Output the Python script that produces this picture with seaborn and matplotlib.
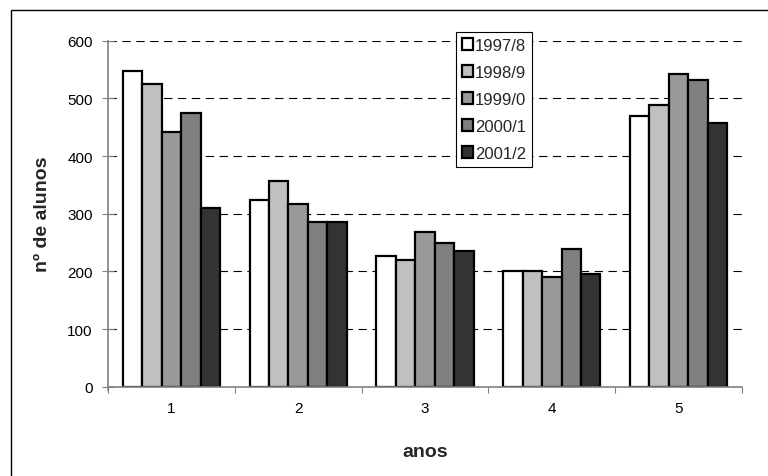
import matplotlib
matplotlib.use("Agg")
import matplotlib.pyplot as plt
import matplotlib.patches as mpatches
from matplotlib.ticker import FixedLocator
import seaborn as sns
import pandas as pd

categories = ["1", "2", "3", "4", "5"]
series_names = ["1997/8", "1998/9", "1999/0", "2000/1", "2001/2"]
v_1997 = [548, 323, 226, 201, 469]
v_1998 = [525, 356, 220, 201, 488]
v_1999 = [441, 316, 269, 191, 543]
v_2000 = [475, 285, 250, 238, 532]
v_2001 = [310, 286, 235, 195, 457]
yticks = [0, 100, 200, 300, 400, 500, 600]

values = [v_1997, v_1998, v_1999, v_2000, v_2001]
rows = []
for s, vals in zip(series_names, values):
    for c, v in zip(categories, vals):
        rows.append({"anos": c, "serie": s, "alunos": v})
df = pd.DataFrame(rows)

sns.set_theme(style="white")
plt.rcParams["font.family"] = ["Liberation Sans", "DejaVu Sans"]

colors = ["#ffffff", "#c0c0c0", "#999999", "#808080", "#333333"]

fig = plt.figure(figsize=(7.68, 4.77), dpi=100)
ax = fig.add_axes([108 / 768, 1 - 387.7 / 477, (742 - 108) / 768, (387.7 - 41.7) / 477])

sns.barplot(data=df, x="anos", y="alunos", hue="serie", order=categories,
            hue_order=series_names, palette=colors, width=0.766, gap=0,
            edgecolor="black", linewidth=1.6, saturation=1, ax=ax, legend=True)

ax.set_ylim(0, 600)
ax.set_xlim(-0.5, 4.5)
ax.set_yticks(yticks)
ax.set_yticklabels([str(t) for t in yticks], fontsize=11, color="black")
ax.set_xticks(range(len(categories)))
ax.set_xticklabels(categories, fontsize=11, color="black")
ax.xaxis.set_minor_locator(FixedLocator([i - 0.5 for i in range(len(categories) + 1)]))
ax.tick_params(axis="x", which="major", length=0, pad=10)
ax.tick_params(axis="x", which="minor", length=4, width=0.8, color="#808080", direction="out", bottom=True)
ax.tick_params(axis="y", which="major", length=8, width=0.8, color="#808080", direction="inout", left=True, pad=7)

for y in yticks[1:]:
    ax.axhline(y, color="black", lw=0.8, linestyle=(0, (7.5, 5)), zorder=0)
ax.set_axisbelow(True)

for side in ["top", "right"]:
    ax.spines[side].set_visible(False)
for side in ["left", "bottom"]:
    ax.spines[side].set_color("#808080")
    ax.spines[side].set_linewidth(1.2)
ax.spines["left"].set_bounds(-5, 600)

ax.set_xlabel("anos", fontsize=14, fontweight="bold")
ax.set_ylabel("nº de alunos", fontsize=14, fontweight="bold")
ax.xaxis.set_label_coords(0.5, -(444 - 387.7) / 346)
ax.yaxis.set_label_coords(-(108 - 51) / 634, 0.5)

handles = [mpatches.Patch(facecolor=c, edgecolor="black", linewidth=1.6) for c in colors]
leg = ax.legend(handles, series_names, loc="upper left",
                bbox_to_anchor=(456 / 768, 1 - 33 / 477), bbox_transform=fig.transFigure,
                fontsize=12, frameon=True, fancybox=False, shadow=False,
                handlelength=0.65, handleheight=0.65, handletextpad=0.15,
                labelspacing=0.72, borderpad=0.35, borderaxespad=0)
leg.get_frame().set_edgecolor("black")
leg.get_frame().set_linewidth(0.8)
leg.get_frame().set_alpha(1)

border = mpatches.Rectangle((11 / 768, -0.2), 1.2, 1.2 - 11 / 477, transform=fig.transFigure,
                            fill=False, edgecolor="black", linewidth=1.0)
fig.patches.append(border)

fig.savefig("out.png", dpi=100)
